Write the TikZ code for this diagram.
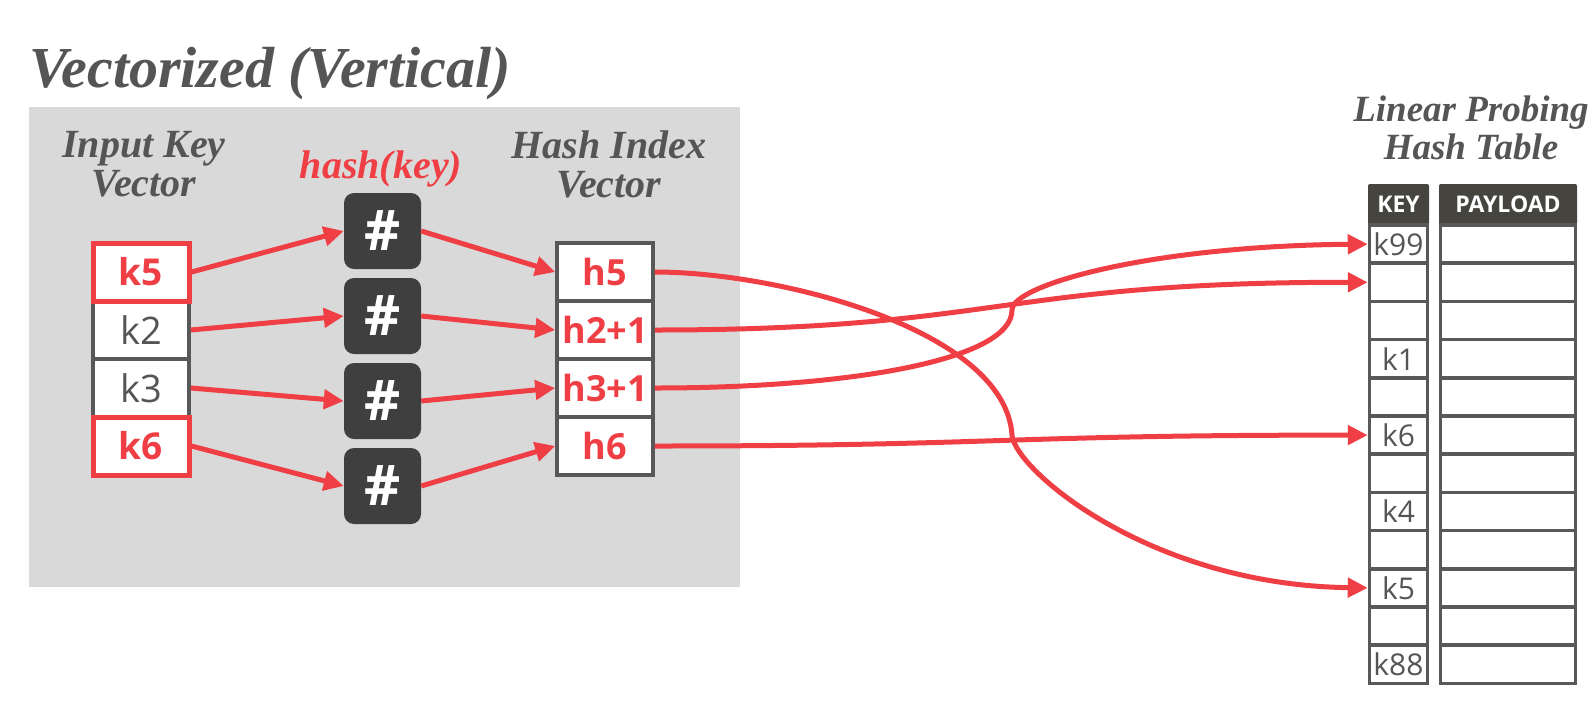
\documentclass[tikz,border=0pt]{standalone}
\usepackage{fontspec}
\setmainfont{Liberation Serif}
\newfontfamily\osans{Open Sans}
\usetikzlibrary{arrows.meta}
\definecolor{redc}{RGB}{239,62,68}
\definecolor{txtgray}{RGB}{85,85,85}
\definecolor{boxgray}{RGB}{88,88,88}
\definecolor{hashfill}{RGB}{63,63,63}
\definecolor{hdrfill}{RGB}{70,68,63}
\definecolor{panel}{RGB}{217,217,217}
\tikzset{
  ttl/.style={inner sep=0pt, text=txtgray, font=\bfseries\itshape\fontsize{58}{58}\selectfont},
  hdr/.style={inner sep=0pt, text=txtgray, align=center, font=\bfseries\itshape\fontsize{40}{39}\selectfont},
  hthdr/.style={inner sep=0pt, text=txtgray, align=center, font=\bfseries\itshape\fontsize{37}{38}\selectfont},
  vcell/.style={draw=boxgray, line width=3.5pt, fill=white, minimum width=96pt, minimum height=58pt, inner sep=0pt, text=txtgray, font=\osans\fontsize{38}{38}\selectfont},
  vred/.style={vcell, draw=redc, line width=5pt, text=redc, font=\osans\bfseries\fontsize{37}{37}\selectfont},
  hcell/.style={vcell, text=redc, font=\osans\bfseries\fontsize{36}{36}\selectfont},
  hashbox/.style={fill=hashfill, rounded corners=10pt, minimum width=77pt, minimum height=76pt, inner sep=0pt, text=white, font=\osans\bfseries\fontsize{56}{56}\selectfont},
  keycell/.style={draw=boxgray, line width=3.5pt, fill=white, minimum width=58pt, minimum height=38.2pt, inner sep=0pt, text=txtgray, font=\osans\fontsize{30}{30}\selectfont},
  paycell/.style={keycell, minimum width=135pt},
  thead/.style={fill=hdrfill, rounded corners=2pt, minimum height=41pt, inner sep=0pt, text=white, font=\osans\bfseries\fontsize{23}{23}\selectfont},
  conn/.style={draw=redc, line width=5pt, -{Triangle[length=20pt,width=19pt]}},
}
\begin{document}
\begin{tikzpicture}[x=1pt,y=-1pt]
\useasboundingbox (0,0) rectangle (1594,710);
\fill[white] (0,0) rectangle (1594,710);
\fill[panel] (29,107) rectangle (740,587);

\node[ttl, anchor=base west] (title) at (29,87) {Vectorized (Vertical)};
\node[hdr] (hin) at (144,164) {Input Key\\Vector};
\node[hdr, text=redc, anchor=base] (hfn) at (381,178) {hash(key)};
\node[hdr] (hix) at (609,164) {Hash Index\\Vector};
\node[hthdr] (hlp) at (1471,128) {Linear Probing\\Hash Table};

% input key vector
\node[vcell] (k2) at (141,330) {k2};
\node[vcell] (k3) at (141,388) {k3};
\node[vred] (k5) at (141,272) {k5};
\node[vred] (k6) at (141,446) {k6};

% hash boxes
\node[hashbox] (g1) at (382.5,231) {\#};
\node[hashbox] (g2) at (382.5,316) {\#};
\node[hashbox] (g3) at (382.5,401) {\#};
\node[hashbox] (g4) at (382.5,486) {\#};

% hash index vector
\node[hcell] (h5) at (605,272) {h5};
\node[hcell] (h2) at (605,330) {h2+1};
\node[hcell] (h3) at (605,388) {h3+1};
\node[hcell] (h6) at (605,446) {h6};

% hash table
\node[thead, minimum width=61pt] (kh) at (1398.5,204.5) {KEY};
\node[thead, minimum width=138pt] (ph) at (1508,204.5) {PAYLOAD};
\foreach \i/\t in {0/k99,1/,2/,3/k1,4/,5/k6,6/,7/k4,8/,9/k5,10/,11/k88}{
  \node[keycell] (r\i) at (1398.5,{244.1+\i*38.2}) {\t};
  \node[paycell] (p\i) at (1508,{244.1+\i*38.2}) {};
}

% short arrows
\draw[conn] (k5.east) -- (g1.west);
\draw[conn] (k2.east) -- (g2.west);
\draw[conn] (k3.east) -- (g3.west);
\draw[conn] (k6.east) -- (g4.west);
\draw[conn] (g1.east) -- (h5.west);
\draw[conn] (g2.east) -- (h2.west);
\draw[conn] (g3.east) -- (h3.west);
\draw[conn] (g4.east) -- (h6.west);

% long curves
\coordinate (m5) at (1012,435);
\coordinate (m3) at (1012,310);
\draw[conn] (h5.east) .. controls (780,272) and (1005,330) .. (m5)
   .. controls (1015,470) and (1150,585) .. (r9.west);
\draw[conn] (h2.east) .. controls (1000,330) and (1000,282) .. (r1.west);
\draw[conn] (h3.east) .. controls (850,388) and (1012,360) .. (m3)
   .. controls (1012,285) and (1150,246) .. (r0.west);
\draw[conn] (h6.east) .. controls (1000,446) and (1000,435) .. (r5.west);
\end{tikzpicture}
\end{document}
